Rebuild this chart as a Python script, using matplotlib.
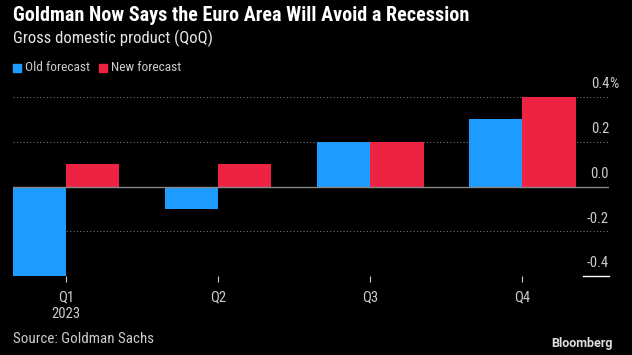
import matplotlib
matplotlib.use("Agg")
import matplotlib.pyplot as plt
import numpy as np

# data
quarters = ["Q1\n2023", "Q2", "Q3", "Q4"]
old_forecast = [-0.4, -0.1, 0.2, 0.3]
new_forecast = [0.1, 0.1, 0.2, 0.4]
y_ticks = [-0.4, -0.2, 0.0, 0.2, 0.4]
y_labels = ["-0.4", "-0.2", "0.0", "0.2", "0.4"]

blue = "#1d9bff"
red = "#ee2344"
bg = "black"
plt.rcParams["font.family"] = ["Roboto Condensed", "DejaVu Sans"]

W, H = 632, 355
fig = plt.figure(figsize=(W / 100, H / 100), dpi=100, facecolor=bg)
ax = fig.add_axes([13 / W, 79 / H, (609 - 13) / W, (276 - 97) / H])
ax.set_facecolor(bg)

x = np.arange(len(quarters))
bw = 0.35
ax.bar(x - bw / 2, old_forecast, bw, color=blue, zorder=3)
ax.bar(x + bw / 2, new_forecast, bw, color=red, zorder=3)

ax.set_xlim(-0.35, 3.57)
ax.set_ylim(-0.4, 0.4)

# gridlines
for t in y_ticks:
    if t == 0:
        ax.axhline(0, color="#888888", lw=1, zorder=4)
    elif t != -0.4:
        ax.axhline(t, color="#777777", lw=0.8, ls=(0, (1, 2)), zorder=1)
ax.plot([0.956, 1.0], [0, 0], transform=ax.transAxes, color="white", lw=1, clip_on=False, zorder=5)

# y labels on the right, above each gridline; the % hangs past the edge
for t, lab in zip(y_ticks, y_labels):
    ax.text(1.0, t + 0.025, lab, transform=ax.get_yaxis_transform(), ha="right", va="bottom",
            color="#cccccc", fontsize=10.5)
ax.text(1.0, y_ticks[-1] + 0.025, "%", transform=ax.get_yaxis_transform(), ha="left", va="bottom",
        color="#cccccc", fontsize=10.5, clip_on=False)

for s in ax.spines.values():
    s.set_visible(False)
ax.set_yticks([])
ax.set_xticks(x)
ax.set_xticklabels(quarters, color="#cccccc", fontsize=10.5, linespacing=1.25)
ax.tick_params(axis="x", colors="#cccccc", length=4, width=0.8, pad=6, labelcolor="#cccccc")

fig.text(13 / W, 1 - 15.5 / H, "Goldman Now Says the Euro Area Will Avoid a Recession", color="white",
         fontsize=14.5, fontweight="bold", va="center", ha="left")
fig.text(13 / W, 1 - 38.5 / H, "Gross domestic product (QoQ)", color="#e6e6e6", fontsize=12,
         va="center", ha="left")

# legend
fig.patches.append(plt.Rectangle((13 / W, 1 - 72 / H), 8 / W, 8 / H, transform=fig.transFigure, color=blue))
fig.text(25 / W, 1 - 67.5 / H, "Old forecast", color="#cccccc", fontsize=9.6, va="center")
fig.patches.append(plt.Rectangle((99 / W, 1 - 72 / H), 8 / W, 8 / H, transform=fig.transFigure, color=red))
fig.text(111 / W, 1 - 67.5 / H, "New forecast", color="#cccccc", fontsize=9.6, va="center")

fig.text(13 / W, 1 - 339 / H, "Source: Goldman Sachs", color="#cccccc", fontsize=10.8, va="center")
fig.text(613 / W, 1 - 344 / H, "Bloomberg", color="#dddddd", fontsize=9, fontweight="bold",
         va="center", ha="right", family=["Roboto", "DejaVu Sans"])

fig.savefig("out.png", dpi=100, facecolor=bg)
